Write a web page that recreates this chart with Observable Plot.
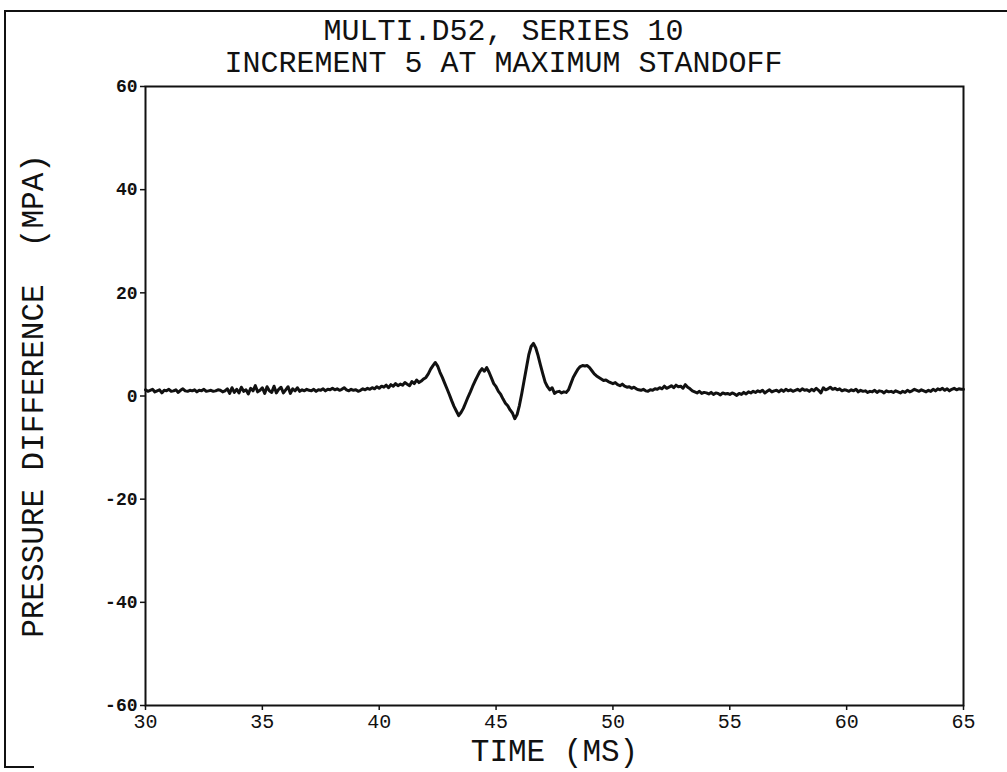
<!DOCTYPE html>
<html>
<head>
<meta charset="utf-8">
<script src="https://cdn.jsdelivr.net/npm/d3@7"></script>
<script src="https://cdn.jsdelivr.net/npm/@observablehq/plot@0.6"></script>
<style>
  html, body { margin: 0; padding: 0; background: #fff; }
  #wrap { position: relative; width: 1007px; height: 772px; overflow: hidden; }
  #border { position: absolute; left: 4px; top: 10px; width: 1010px; height: 756px;
            border-top: 2px solid #111; border-left: 2px solid #111; }
  #foot { position: absolute; left: 4px; top: 766px; width: 30px; border-top: 2px solid #111; }
  svg text { white-space: pre; }
</style>
</head>
<body>
<div id="wrap"><div id="border"></div><div id="foot"></div></div>
<script>
// Title lines
const titleLines = ["MULTI.D52, SERIES 10", "INCREMENT 5 AT MAXIMUM STANDOFF"];
const xLabel = "TIME (MS)";
const yLabel = "PRESSURE DIFFERENCE  (MPA)";
const xTicks = [30, 35, 40, 45, 50, 55, 60, 65];
const yTicks = [-60, -40, -20, 0, 20, 40, 60];
const xDomain = [30, 65];
const yDomain = [-60, 60];

// Sampling: first sample time and spacing (ms)
const tStart = 30;
const tStep = 0.1;
// Pressure difference (MPa), 10 samples per ms (30.0 .. 65.0)
const pressure = [
  1.2, 0.9, 1.1, 1.3, 0.8, 1.0, 1.2, 0.6, 1.1, 1.0,   // 30
  1.3, 0.9, 1.0, 1.2, 0.7, 1.1, 1.4, 1.0, 0.9, 1.1,   // 31
  1.0, 1.2, 0.8, 1.1, 1.0, 1.3, 0.9, 1.0, 1.1, 0.9,   // 32
  1.0, 1.2, 1.1, 0.8, 1.0, 1.4, 0.5, 1.6, 0.7, 1.3,   // 33
  0.6, 1.7, 0.9, 1.2, 0.4, 1.5, 1.0, 2.0, 0.8, 1.1,   // 34
  1.6, 0.5, 1.8, 1.0, 0.7, 1.9, 0.6, 1.3, 1.7, 0.6,   // 35
  1.2, 1.8, 0.5, 1.4, 1.0, 1.6, 0.9, 1.2, 1.0, 1.3,   // 36
  1.1, 1.0, 1.3, 0.9, 1.2, 1.1, 1.4, 1.0, 1.3, 1.2,   // 37
  1.5, 1.2, 1.4, 1.1, 1.3, 1.6, 1.2, 1.0, 1.3, 1.1,   // 38
  1.2, 0.9, 1.1, 1.4, 1.2, 1.5, 1.3, 1.6, 1.4, 1.8,   // 39
  1.5, 1.9, 1.7, 2.1, 1.6, 2.2, 1.9, 2.4, 2.0, 2.3,   // 40
  2.1, 2.6, 2.3, 2.0, 2.8, 2.4, 3.1, 2.6, 2.9, 3.3,   // 41
  3.6, 4.3, 5.2, 5.9, 6.5, 5.8, 4.6, 3.6, 2.5, 1.4,   // 42
  0.3, -0.9, -2.0, -2.9, -3.8, -3.2, -2.4, -1.3, -0.2, 0.8, // 43
  1.9, 2.9, 3.8, 4.7, 5.3, 4.8, 5.5, 4.6, 3.5, 2.4,   // 44
  1.8, 0.9, 0.3, -0.6, -1.4, -1.9, -2.7, -3.3, -4.4, -3.6, // 45
  -1.8, 0.5, 3.0, 5.5, 8.0, 9.6, 10.2, 9.3, 7.8, 6.0, // 46
  4.3, 2.7, 1.8, 1.2, 1.6, 0.5, 0.8, 0.9, 0.6, 0.8,   // 47
  0.7, 1.2, 2.4, 3.6, 4.4, 5.2, 5.7, 5.9, 5.8, 5.9,   // 48
  5.5, 4.9, 4.3, 3.9, 3.6, 3.3, 3.0, 3.1, 2.8, 2.6,   // 49
  2.4, 2.6, 2.2, 2.0, 2.3, 1.9, 1.7, 1.8, 1.5, 1.7,   // 50
  1.4, 1.2, 1.1, 1.3, 1.0, 0.9, 1.2, 1.1, 1.4, 1.3,   // 51
  1.6, 1.4, 1.9, 1.5, 1.7, 2.0, 1.6, 2.1, 1.8, 1.9,   // 52
  1.5, 2.2, 1.7, 1.4, 1.0, 0.8, 0.6, 0.9, 0.5, 0.7,   // 53
  0.6, 0.4, 0.7, 0.3, 0.6, 0.5, 0.2, 0.6, 0.4, 0.5,   // 54
  0.3, 0.6, 0.4, 0.1, 0.5, 0.3, 0.7, 0.4, 0.8, 0.6,   // 55
  0.9, 0.7, 1.0, 0.8, 1.1, 0.6, 0.9, 1.2, 0.8, 1.0,   // 56
  1.1, 0.8, 1.2, 0.9, 1.3, 1.0, 1.2, 0.9, 1.1, 1.3,   // 57
  1.0, 1.4, 1.1, 1.2, 0.9, 1.3, 1.0, 1.5, 1.1, 0.6,   // 58
  1.6, 1.2, 1.4, 1.7, 1.3, 1.5, 1.2, 1.4, 1.0, 1.2,   // 59
  1.1, 0.9, 1.2, 1.0, 1.3, 0.8, 1.1, 0.9, 1.0, 0.7,   // 60
  0.9, 0.8, 1.1, 0.7, 1.0, 0.9, 0.6, 1.0, 0.8, 0.9,   // 61
  0.7, 1.0, 0.8, 0.6, 0.9, 0.7, 1.1, 0.8, 1.0, 1.3,   // 62
  1.1, 0.9, 1.2, 1.0, 0.8, 1.1, 0.9, 1.3, 1.0, 1.4,   // 63
  1.2, 1.5, 1.1, 1.4, 1.0, 1.3, 1.5, 1.2, 1.4, 1.3,   // 64
  1.3                                                 // 65
];

const data = pressure.map((p, i) => ({t: +(tStart + i * tStep).toFixed(1), p}));

const FONT = "'Liberation Mono', 'DejaVu Sans Mono', monospace";

const chart = Plot.plot({
  width: 1007,
  height: 772,
  marginLeft: 145,
  marginRight: 44,
  marginTop: 86,
  marginBottom: 67,
  style: {fontFamily: FONT, background: "transparent", color: "#111"},
  x: {domain: xDomain, ticks: xTicks, label: null},
  y: {domain: yDomain, ticks: yTicks, label: null},
  marks: [
    Plot.axisX({ticks: xTicks, tickSize: 5, tickPadding: 3, fontSize: 20, strokeWidth: 1.5, tickFormat: d => String(d), label: null}),
    Plot.axisY({ticks: yTicks, tickSize: 5, tickPadding: 3, fontSize: 18, fontWeight: "bold", strokeWidth: 1.5, tickFormat: d => String(d), label: null}),
    Plot.frame({stroke: "#111", strokeWidth: 2}),
    Plot.lineY(data, {x: "t", y: "p", stroke: "#111", strokeWidth: 3, strokeLinejoin: "round"}),
    Plot.text([titleLines[0]], {frameAnchor: "top", text: d => d, textAnchor: "middle", dx: -51, dy: -56, fontSize: 30, lineAnchor: "middle", fill: "#111"}),
    Plot.text([titleLines[1]], {frameAnchor: "top", text: d => d, textAnchor: "middle", dx: -51, dy: -24, fontSize: 30, lineAnchor: "middle", fill: "#111"}),
    Plot.text([xLabel], {frameAnchor: "bottom", text: d => d, textAnchor: "middle", dy: 46, fontSize: 31, lineAnchor: "middle", fill: "#111"}),
    Plot.text([yLabel], {frameAnchor: "left", text: d => d, textAnchor: "middle", lineAnchor: "middle", dx: -112, rotate: -90, fontSize: 31, fill: "#111"})
  ]
});
document.getElementById("wrap").appendChild(chart);
chart.style.position = "absolute";
chart.style.left = "0px";
chart.style.top = "0px";
</script>
</body>
</html>
